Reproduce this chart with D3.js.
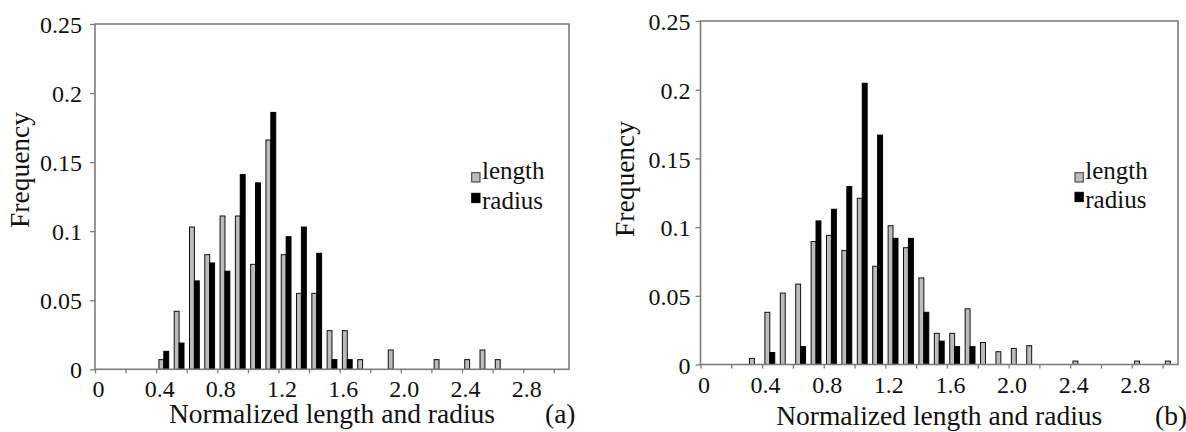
<!DOCTYPE html>
<html>
<head>
<meta charset="utf-8">
<script src="https://cdn.jsdelivr.net/npm/d3@7"></script>
<style>
  html, body { margin: 0; padding: 0; background: #fff; }
  svg { display: block; }
  svg text { font-family: "Liberation Serif", Tinos, "Times New Roman", Times, "DejaVu Serif", "Noto Serif", serif !important; }
</style>
</head>
<body>
<svg id="chart" width="1186" height="432"></svg>
<script>
// Histogram bins (left edge of each 0.1-wide bin)
const categories = [0.0, 0.1, 0.2, 0.3, 0.4, 0.5, 0.6, 0.7, 0.8, 0.9,
                    1.0, 1.1, 1.2, 1.3, 1.4, 1.5, 1.6, 1.7, 1.8, 1.9,
                    2.0, 2.1, 2.2, 2.3, 2.4, 2.5, 2.6, 2.7, 2.8, 2.9, 3.0];

// Panel (a) frequencies
const lengthA = [0, 0, 0, 0, 0.007, 0.042, 0.103, 0.083, 0.111, 0.111,
                 0.076, 0.166, 0.083, 0.055, 0.055, 0.028, 0.028, 0.007, 0, 0.014,
                 0, 0, 0.007, 0, 0.007, 0.014, 0.007, 0, 0, 0, 0];
const radiusA = [0, 0, 0, 0, 0.013, 0.019, 0.064, 0.077, 0.071, 0.141,
                 0.135, 0.186, 0.096, 0.103, 0.084, 0.007, 0.007, 0, 0, 0,
                 0, 0, 0, 0, 0, 0, 0, 0, 0, 0, 0];

// Panel (b) frequencies
const lengthB = [0, 0, 0, 0.0045, 0.038, 0.052, 0.0585, 0.0895, 0.094, 0.083,
                 0.121, 0.0715, 0.101, 0.085, 0.063, 0.0227, 0.0227, 0.0405, 0.016, 0.0093,
                 0.0117, 0.0137, 0, 0, 0.0025, 0, 0, 0, 0.0025, 0, 0.0025];
const radiusB = [0, 0, 0, 0, 0.0087, 0, 0.013, 0.1045, 0.113, 0.1295,
                 0.2047, 0.167, 0.0918, 0.0918, 0.038, 0.017, 0.013, 0.013, 0, 0,
                 0, 0, 0, 0, 0, 0, 0, 0, 0, 0, 0];

// Axis ticks and labels
const xTickValues = [0, 0.2, 0.4, 0.6, 0.8, 1.0, 1.2, 1.4, 1.6, 1.8, 2.0, 2.2, 2.4, 2.6, 2.8, 3.0];
const xLabelValues = [0, 0.4, 0.8, 1.2, 1.6, 2.0, 2.4, 2.8];
const xLabelText = ["0", "0.4", "0.8", "1.2", "1.6", "2.0", "2.4", "2.8"];
const yTickValues = [0, 0.05, 0.1, 0.15, 0.2, 0.25];
const yLabelText = ["0", "0.05", "0.1", "0.15", "0.2", "0.25"];
const seriesNames = ["length", "radius"];

const binWidth = 0.1;
const FRAME = "#7d7d7d";
const GREY = "#bcbcbc";

const svg = d3.select("#chart");

const panels = [
  { length: lengthA, radius: radiusA, tag: "(a)",
    x0: 95, x1: 569, y0: 369.3, y1: 24, yLabPad: 8,
    freqX: 28.5, freqY: 170, titleY: 423, tagX: 545,
    legX: 471.7, legY: 172.7, legGap: 20.6 },
  { length: lengthB, radius: radiusB, tag: "(b)",
    x0: 700.5, x1: 1178, y0: 364.5, y1: 21, yLabPad: 5,
    freqX: 633.5, freqY: 179, titleY: 425, tagX: 1155,
    legX: 1075, legY: 172.7, legGap: 19.6 }
];

panels.forEach(p => {
  const x = d3.scaleLinear().domain([0, 3.1]).range([p.x0, p.x1]);
  const y = d3.scaleLinear().domain([0, 0.25]).range([p.y0, p.y1]);
  const g = svg.append("g");

  // bars: two per bin, centred in the bin
  const bw = (x(binWidth) - x(0)) * 0.32;
  const pad = ((x(binWidth) - x(0)) - 2 * bw) / 2;
  const rows = categories.map((c, i) => ({ c, len: p.length[i], rad: p.radius[i] }));

  g.selectAll("rect.len").data(rows.filter(d => d.len > 0)).join("rect")
    .attr("class", "len")
    .attr("x", d => x(d.c) + pad)
    .attr("y", d => y(d.len))
    .attr("width", bw)
    .attr("height", d => y(0) - y(d.len))
    .attr("fill", GREY)
    .attr("stroke", "#111")
    .attr("stroke-width", 1);

  g.selectAll("rect.rad").data(rows.filter(d => d.rad > 0)).join("rect")
    .attr("class", "rad")
    .attr("x", d => x(d.c) + pad + bw)
    .attr("y", d => y(d.rad))
    .attr("width", bw)
    .attr("height", d => y(0) - y(d.rad))
    .attr("fill", "#000")
    .attr("stroke", "#000")
    .attr("stroke-width", 1);

  // plot frame
  g.append("rect")
    .attr("x", x(0)).attr("y", y(0.25))
    .attr("width", x(3.1) - x(0)).attr("height", y(0) - y(0.25))
    .attr("fill", "none").attr("stroke", FRAME).attr("stroke-width", 1.6);

  // y axis
  const yAxis = g.append("g")
    .attr("transform", `translate(${x(0)},0)`)
    .call(d3.axisLeft(y).tickValues(yTickValues)
      .tickFormat((d, i) => yLabelText[i]).tickSize(5).tickPadding(p.yLabPad));
  yAxis.attr("font-family", null);
  yAxis.select(".domain").remove();
  yAxis.selectAll("line").attr("stroke", FRAME).attr("stroke-width", 1.3);
  yAxis.selectAll("text").attr("font-size", 24).attr("fill", "#111").attr("dy", "0.36em");

  // x axis tick marks
  const xTicks = g.append("g")
    .attr("transform", `translate(0,${y(0)})`)
    .call(d3.axisBottom(x).tickValues(xTickValues).tickSize(4).tickFormat(""));
  xTicks.select(".domain").remove();
  xTicks.selectAll("line").attr("stroke", FRAME).attr("stroke-width", 1.3);

  // x axis labels
  const xLabels = g.append("g")
    .attr("transform", `translate(3,${y(0)})`)
    .call(d3.axisBottom(x).tickValues(xLabelValues)
      .tickFormat((d, i) => xLabelText[i]).tickSize(0));
  xLabels.attr("font-family", null);
  xLabels.select(".domain").remove();
  xLabels.selectAll("text").attr("font-size", 24).attr("fill", "#111")
    .attr("dy", null).attr("y", 28);

  // axis titles
  g.append("text")
    .attr("transform", `translate(${p.freqX},${p.freqY}) rotate(-90)`)
    .attr("text-anchor", "middle").attr("font-size", 27.5).attr("fill", "#111")
    .text("Frequency");

  g.append("text")
    .attr("x", (x(0) + x(3.1)) / 2).attr("y", p.titleY)
    .attr("text-anchor", "middle").attr("font-size", 27.5).attr("fill", "#111")
    .text("Normalized length and radius");

  g.append("text")
    .attr("x", p.tagX).attr("y", p.titleY)
    .attr("font-size", 27.5).attr("fill", "#111")
    .text(p.tag);

  // legend: swatches sit close together, the labels are spaced a full line apart
  const leg = g.append("g").attr("transform", `translate(${p.legX},${p.legY})`);
  seriesNames.forEach((name, i) => {
    leg.append("rect")
      .attr("x", 0).attr("y", i * p.legGap)
      .attr("width", 8.3).attr("height", 9.3)
      .attr("fill", i === 0 ? GREY : "#000")
      .attr("stroke", i === 0 ? "#333" : "#000").attr("stroke-width", 1);
    leg.append("text")
      .attr("x", 10.3).attr("y", i === 0 ? 6.6 : p.legGap + 16)
      .attr("font-size", 25)
      .attr("fill", "#111")
      .text(name);
  });
});
</script>
</body>
</html>
